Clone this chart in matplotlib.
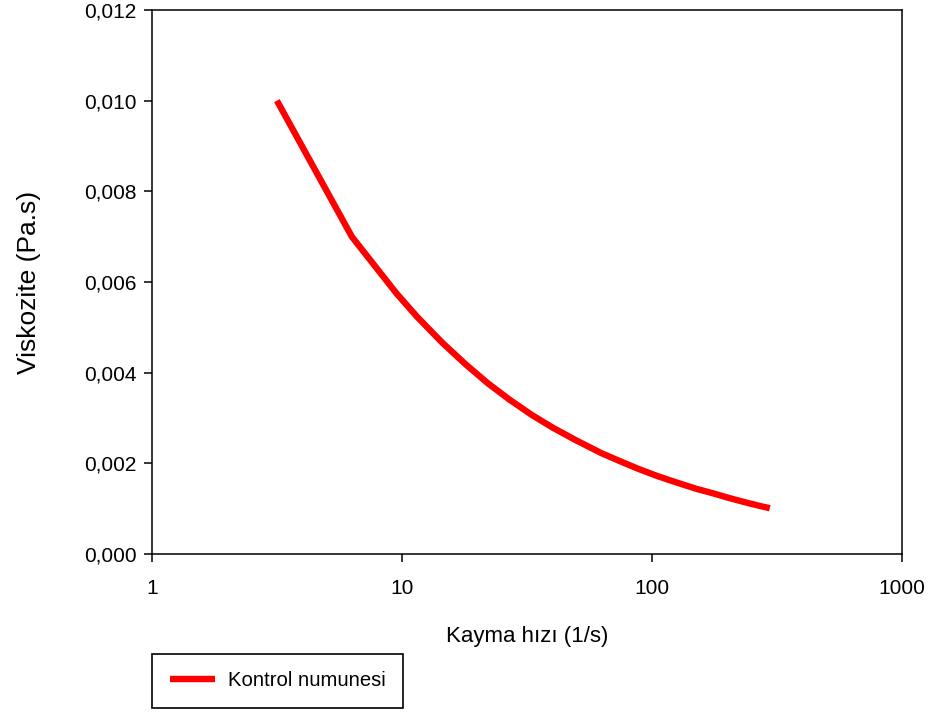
import matplotlib
matplotlib.use("Agg")
import matplotlib.pyplot as plt
from matplotlib.ticker import FuncFormatter, FixedLocator, NullLocator

# Data
shear_rate = [3.16, 6.3, 9.5, 11.5, 14.5, 18, 22, 27, 33, 40, 50, 63, 75,
              88, 105, 125, 150, 175, 205, 240, 270, 296]
viscosity = [0.01000, 0.00700, 0.00575, 0.00523, 0.00466, 0.00418, 0.00377,
             0.00340, 0.00307, 0.00279, 0.00250, 0.00222, 0.00204, 0.00188,
             0.00172, 0.00158, 0.00144, 0.00134, 0.00123, 0.00113, 0.00106,
             0.00101]
x_ticks = [1, 10, 100, 1000]
y_ticks = [0.000, 0.002, 0.004, 0.006, 0.008, 0.010, 0.012]
series_label = "Kontrol numunesi"

plt.rcParams["font.family"] = ["Liberation Sans", "DejaVu Sans"]

fig = plt.figure(figsize=(9.32, 7.15), dpi=100)
ax = fig.add_axes([152 / 932, 1 - 554 / 715, 750 / 932, 544 / 715])

ax.plot(shear_rate, viscosity, color="#ff0000", linewidth=4.6,
        solid_capstyle="butt", solid_joinstyle="round", label=series_label)

ax.set_xscale("log")
ax.set_xlim(1, 1000)
ax.set_ylim(0, 0.012)
ax.xaxis.set_major_locator(FixedLocator(x_ticks))
ax.xaxis.set_minor_locator(NullLocator())
ax.xaxis.set_major_formatter(FuncFormatter(lambda v, p: f"{v:g}"))
ax.yaxis.set_major_locator(FixedLocator(y_ticks))
ax.yaxis.set_major_formatter(FuncFormatter(lambda v, p: f"{v:.3f}".replace(".", ",")))

ax.tick_params(direction="out", length=6, width=1.1, labelsize=15)
ax.tick_params(axis="x", pad=12)
ax.tick_params(axis="y", pad=5)
for spine in ax.spines.values():
    spine.set_linewidth(1.1)

ax.set_xlabel("Kayma hızı (1/s)", fontsize=16, labelpad=20)
ax.set_ylabel("Viskozite (Pa.s)", fontsize=19, labelpad=31)

leg = fig.legend(loc="center", bbox_to_anchor=(277.5 / 932, 1 - 681 / 715),
                 fontsize=14.6, handlelength=2.25, handletextpad=0.6,
                 borderpad=0.85, fancybox=False, edgecolor="black",
                 framealpha=1)
leg.get_frame().set_linewidth(1.2)

fig.savefig("out.png", dpi=100)
